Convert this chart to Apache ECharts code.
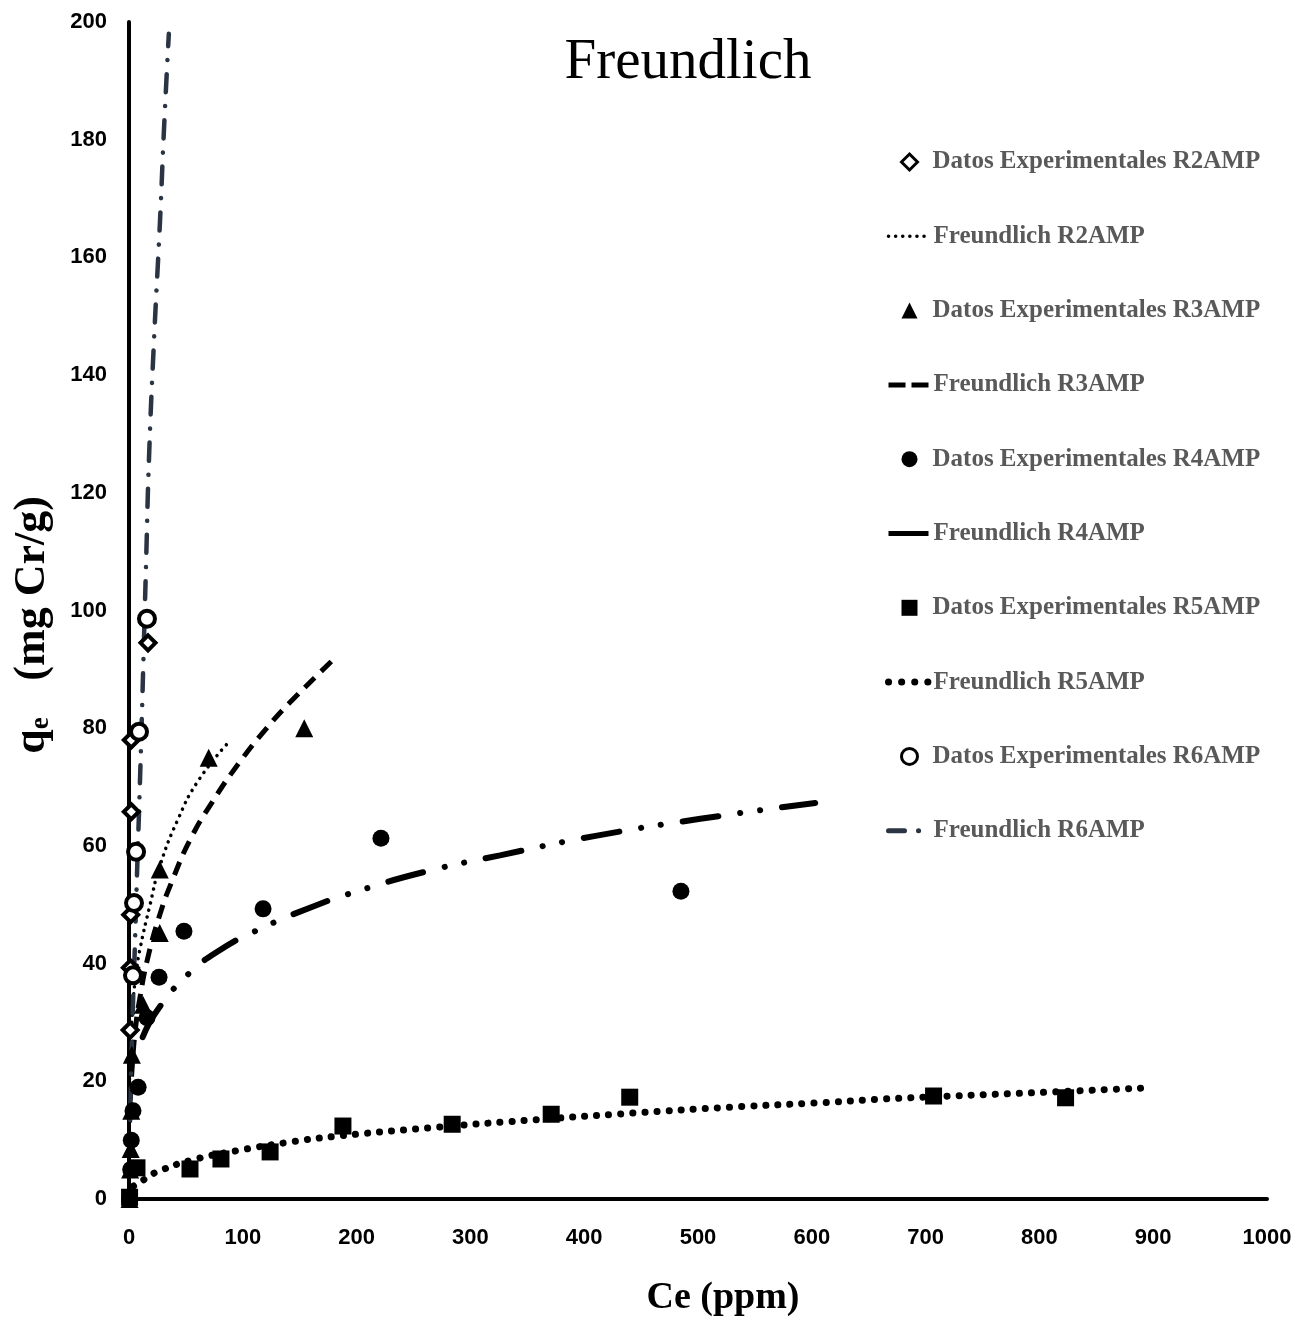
<!DOCTYPE html>
<html>
<head>
<meta charset="utf-8">
<script src="https://cdn.jsdelivr.net/npm/echarts@6/dist/echarts.min.js"></script>
<style>
  html, body { margin: 0; padding: 0; background: #fff; }
  #chart { width: 1301px; height: 1323px; }
</style>
</head>
<body>
<div id="chart"></div>
<script>
// datos experimentales [Ce (ppm), qe (mg Cr/g)]
var r2Data = [[1,28.7],[1.2,39.3],[1.5,48.3],[2,65.8],[2,78],[16.7,94.5]];
var r3Data = [[0.5,0],[1,5],[1.5,8.5],[2,15],[2.5,24.5],[12.3,33],[27,45.2],[27,56],[70,75],[154,80]];
var r4Data = [[0.5,0],[1.5,5],[2,10],[3.5,15],[8,19],[15.8,30.8],[26.4,37.7],[48.3,45.5],[117.8,49.3],[221.4,61.3],[485,52.3]];
var r5Data = [[0.5,0.3],[7,5.3],[53.6,5.1],[80.8,6.8],[124,8],[188,12.4],[284,12.7],[371,14.4],[440,17.3],[707,17.5],[823,17.2]];
var r6Data = [[3.5,38],[4.4,50.3],[6.2,59],[8.8,79.4],[15.8,98.6]];

// curvas Freundlich
var r2Fit = [[0.3,18],[1,24],[3,32],[6,38],[9.7,42.5],[18.5,50],[27,56.5],[43,64.5],[60.6,71],[87,77.5]];
var r3Fit = [[0.5,13],[1,16],[3,23],[6,29.5],[9.7,34.3],[15.8,40.4],[27.2,48.4],[37.8,54],[53.6,61],[73,67.4],[97.5,74.3],[121,80],[141.5,84.4],[182,92.1]];
var r4Fit = [[12,27.5],[24.6,32],[51,38],[80,42.3],[113,45.7],[163,49.8],[199,52.2],[260,55.6],[326,58.4],[410,61.7],[502,64.6],[603,67.3]];
var r5Fit = [[4,2.2],[15.8,3.6],[24.6,4.6],[55,6.6],[97.5,8.3],[139,9.6],[179,10.6],[264.5,12.1],[359,13.5],[443,14.6],[528,15.6],[612,16.4],[664,17],[812,18.2],[897,18.9]];
var r6Fit = [[0.5,8],[1.5,18],[3,30],[5,42],[7,55],[9,67],[11,80],[13,94],[15,108],[17.6,126],[22,146],[27.2,166],[30.8,182],[35,198]];

var seriesNames = ['R2AMP', 'R3AMP', 'R4AMP', 'R5AMP', 'R6AMP'];
var dataNames = seriesNames.map(function (s) { return 'Datos Experimentales ' + s; });
var fitNames = seriesNames.map(function (s) { return 'Freundlich ' + s; });

var serif = '"Liberation Serif", "Times New Roman", serif';
var sans = '"Liberation Sans", Arial, sans-serif';

// estilos de las curvas (tambien usados en la leyenda)
var fitStyles = [
    { color: '#000', width: 3.5, type: [0.1, 7], cap: 'round' },
    { color: '#000', width: 5, type: [14, 9], cap: 'butt' },
    { color: '#000', width: 6, type: [36, 22, 0.1, 20, 0.1, 22], cap: 'round' },
    { color: '#000', width: 7, type: [0.1, 12], cap: 'round' },
    { color: '#2b3443', width: 4.5, type: [18, 14, 0.1, 14], cap: 'round' }
];
var legendLineStyles = [
    { color: '#000', width: 3.5, type: [0.1, 7], cap: 'round' },
    { color: '#000', width: 5, type: [17, 6], cap: 'butt' },
    { color: '#000', width: 5, type: 'solid', cap: 'butt' },
    { color: '#000', width: 7, type: [0.1, 13], cap: 'round' },
    { color: '#2b3443', width: 5, type: [16, 14, 0.1, 40], cap: 'round' }
];
var openMarker = { color: '#fff', borderColor: '#000', borderWidth: 4, opacity: 1 };

function pts(name, data, symbol, size, empty) {
    return {
        name: name,
        type: 'scatter',
        data: data,
        symbol: symbol,
        symbolSize: size,
        z: 5,
        itemStyle: empty ? openMarker : { color: '#000', opacity: 1 }
    };
}

function fit(name, data, ls) {
    return {
        name: name,
        type: 'line',
        data: data,
        symbol: 'none',
        smooth: 0.5,
        z: 3,
        itemStyle: { color: ls.color },
        lineStyle: ls
    };
}

var legendText = { fontFamily: serif, fontWeight: 'bold', fontSize: 25, color: '#595959', lineHeight: 30 };

var chart = echarts.init(document.getElementById('chart'));

var option = {
    animation: false,
    backgroundColor: '#fff',
    title: {
        text: 'Freundlich',
        left: 683,
        textAlign: 'center',
        top: 30,
        textStyle: { fontFamily: serif, fontWeight: 'normal', fontSize: 57, color: '#000' }
    },
    grid: { left: 129, right: 34, top: 22, bottom: 124, containLabel: false },
    legend: [
        {
            // marcadores
            orient: 'vertical',
            left: 895,
            top: 142,
            itemWidth: 16,
            itemHeight: 16,
            itemGap: 118.6,
            textStyle: Object.assign({ padding: [0, 0, 0, 10] }, legendText),
            data: dataNames.map(function (n, i) {
                var d = { name: n };
                if (i === 0 || i === 4) d.itemStyle = { color: '#fff', borderColor: '#000', borderWidth: 3 };
                return d;
            })
        },
        {
            // curvas
            orient: 'vertical',
            left: 880,
            top: 216.3,
            itemWidth: 40,
            itemHeight: 16,
            itemGap: 118.6,
            textStyle: legendText,
            data: fitNames.map(function (n, i) {
                return {
                    name: n,
                    itemStyle: { opacity: 0, color: 'rgba(0,0,0,0)', borderWidth: 0 },
                    lineStyle: legendLineStyles[i]
                };
            })
        }
    ],
    graphic: [
        {
            type: 'text',
            x: 33,
            y: 625,
            rotation: Math.PI / 2,
            style: {
                text: '{q|q}{e|e}           {u|(mg Cr/g)}',
                align: 'center',
                verticalAlign: 'middle',
                rich: {
                    q: { fontFamily: serif, fontWeight: 'bold', fontSize: 44, fill: '#000' },
                    e: { fontFamily: serif, fontWeight: 'bold', fontSize: 27, fill: '#000', verticalAlign: 'bottom', padding: [16, 0, 0, 0] },
                    u: { fontFamily: serif, fontWeight: 'bold', fontSize: 44, fill: '#000' }
                }
            }
        }
    ],
    xAxis: {
        type: 'value',
        min: 0,
        max: 1000,
        interval: 100,
        name: 'Ce (ppm)',
        nameLocation: 'middle',
        nameGap: 80,
        nameTextStyle: { fontFamily: serif, fontWeight: 'bold', fontSize: 38, color: '#000', padding: [0, 0, 0, 50] },
        axisLine: { show: true, lineStyle: { color: '#000', width: 4 } },
        axisTick: { show: false },
        splitLine: { show: false },
        axisLabel: {
            margin: 28, fontFamily: sans, fontWeight: 'bold', fontSize: 22, color: '#000',
            formatter: function (v) { return String(v); }
        }
    },
    yAxis: {
        type: 'value',
        min: 0,
        max: 200,
        interval: 20,
        axisLine: { show: true, onZero: false, lineStyle: { color: '#000', width: 4 } },
        axisTick: { show: false },
        splitLine: { show: false },
        axisLabel: { margin: 22, fontFamily: sans, fontWeight: 'bold', fontSize: 22, color: '#000' }
    },
    series: [
        pts(dataNames[0], r2Data, 'diamond', 15, true),
        fit(fitNames[0], r2Fit, fitStyles[0]),
        pts(dataNames[1], r3Data, 'triangle', 18, false),
        fit(fitNames[1], r3Fit, fitStyles[1]),
        pts(dataNames[2], r4Data, 'circle', 17, false),
        fit(fitNames[2], r4Fit, fitStyles[2]),
        pts(dataNames[3], r5Data, 'rect', 17, false),
        fit(fitNames[3], r5Fit, fitStyles[3]),
        pts(dataNames[4], r6Data, 'circle', 16, true),
        fit(fitNames[4], r6Fit, fitStyles[4])
    ]
};

option && chart.setOption(option);
</script>
</body>
</html>
